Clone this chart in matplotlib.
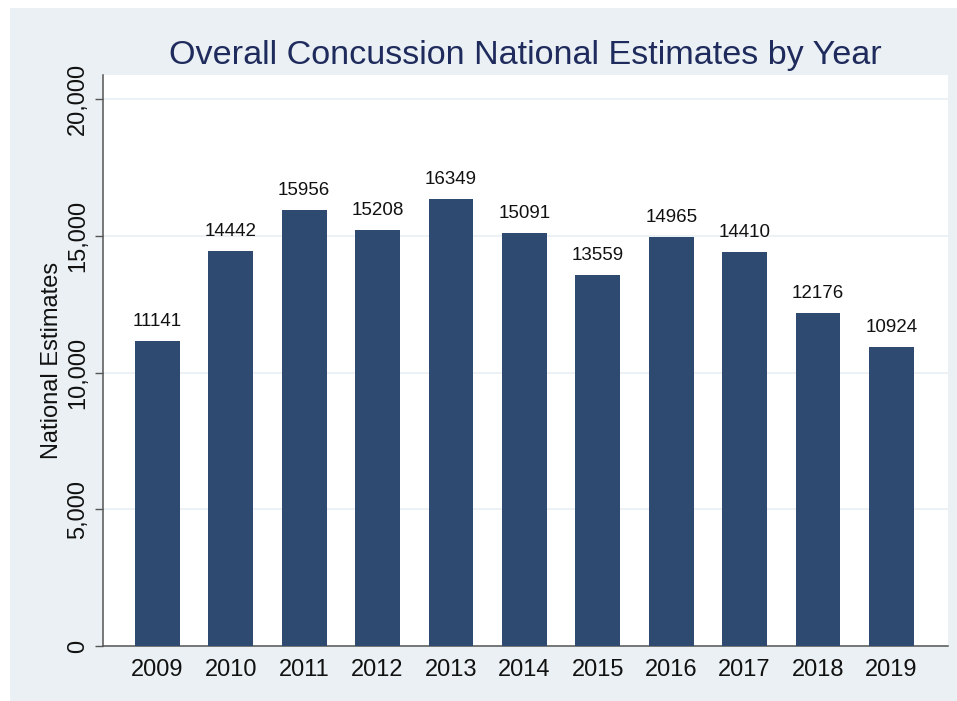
import matplotlib
matplotlib.use("Agg")
import matplotlib.pyplot as plt
from matplotlib.patches import Rectangle
from matplotlib.ticker import FuncFormatter

years = ["2009", "2010", "2011", "2012", "2013", "2014",
         "2015", "2016", "2017", "2018", "2019"]
estimates = [11141, 14442, 15956, 15208, 16349, 15091,
             13559, 14965, 14410, 12176, 10924]
y_ticks = [0, 5000, 10000, 15000, 20000]

plt.rcParams['font.family'] = ['Liberation Sans', 'DejaVu Sans']

bg = '#EAF0F3'
bar_color = '#2E4A70'
title_color = '#1F2B5C'

fig = plt.figure(figsize=(9.57, 7.01), dpi=100, facecolor='white')
# stata-style grey panel, small white strip at top/left
fig.patches.append(Rectangle((10 / 957, 0), 1 - 10 / 957, 1 - 8 / 701,
                             transform=fig.transFigure, facecolor=bg,
                             edgecolor='none', zorder=-5))

ax = fig.add_axes([103 / 957, 55 / 701, 845 / 957, 571 / 701])
ax.set_facecolor('white')

x = list(range(len(years)))
bars = ax.bar(x, estimates, width=0.61, color=bar_color, zorder=3)
for xi, v in zip(x, estimates):
    ax.annotate(str(v), (xi, v), xytext=(0, 8), textcoords='offset points',
                ha='center', va='bottom', fontsize=13.5, color='#111111')

ax.set_xlim(-0.74, 10.77)
ax.set_ylim(0, 20880)
ax.set_xticks(x)
ax.set_xticklabels(years, fontsize=17)
ax.set_yticks(y_ticks)
ax.yaxis.set_major_formatter(FuncFormatter(lambda v, p: f"{int(v):,}"))
for lab in ax.get_yticklabels():
    lab.set_rotation(90)
    lab.set_va('center')
    lab.set_fontsize(17)

ax.tick_params(axis='x', length=0, pad=9, colors='#111111')
ax.tick_params(axis='y', length=6, width=1, direction='out', pad=4,
               colors='#111111', color='#555555')
ax.grid(axis='y', color='#E8EFF2', linewidth=1.2, zorder=0)

for s in ['top', 'right']:
    ax.spines[s].set_visible(False)
for s in ['left', 'bottom']:
    ax.spines[s].set_color('#555555')
    ax.spines[s].set_linewidth(1.1)

ax.set_ylabel('National Estimates', fontsize=17, color='#111111', labelpad=3)
ax.set_title('Overall Concussion National Estimates by Year',
             fontsize=24.6, color=title_color, pad=8)

fig.savefig('out.png', dpi=100, facecolor=fig.get_facecolor())
